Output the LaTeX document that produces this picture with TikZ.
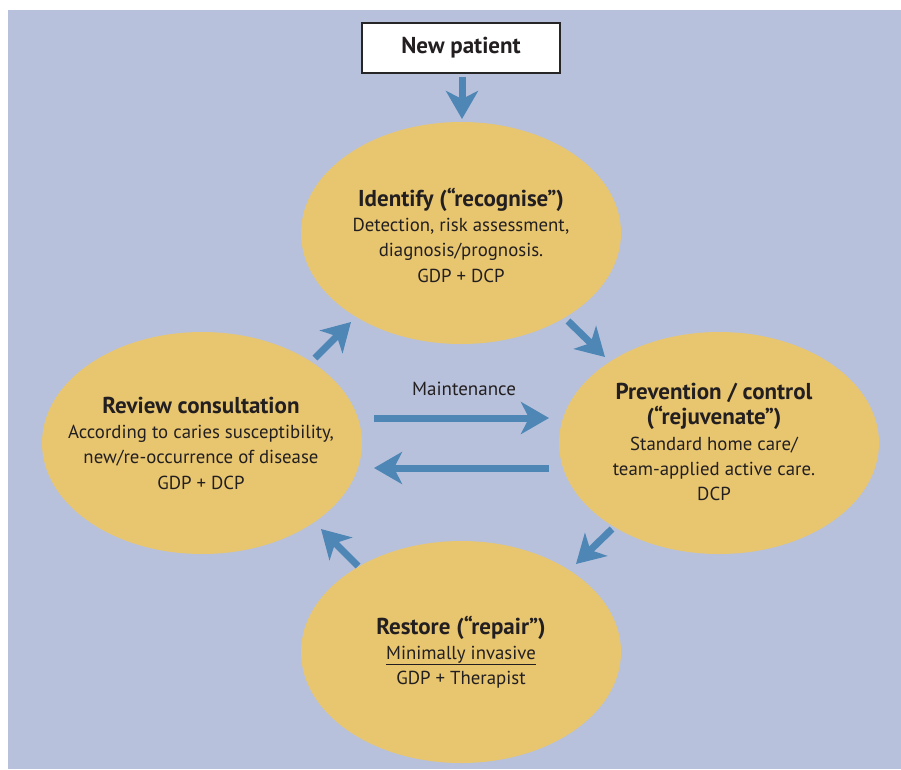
\documentclass[tikz,border=0pt]{standalone}
\usepackage{fontspec}
\setmainfont{PT Sans}
\usetikzlibrary{shapes.geometric,arrows.meta}
\definecolor{bgblue}{RGB}{184,193,219}
\definecolor{ellyellow}{RGB}{232,198,112}
\definecolor{arrblue}{RGB}{78,134,182}
\definecolor{txtdark}{RGB}{35,31,32}
\newcommand{\ttlfont}{\bfseries\fontsize{23}{26}\selectfont}
\begin{document}
\begin{tikzpicture}[x=1pt,y=-1pt,
  stage/.style={ellipse, fill=ellyellow, minimum width=320pt, minimum height=222pt,
    inner sep=0pt},
  stagetext/.style={inner sep=0pt, align=center, text=txtdark,
    font=\fontsize{18.8}{25.3}\selectfont},
  flow/.style={draw=arrblue, line width=7pt,
    -{Stealth[length=28pt,width=32pt,inset=8pt]}},
  lbl/.style={text=txtdark, font=\fontsize{19}{22}\selectfont, inner sep=0pt}
]
\useasboundingbox (0,0) rectangle (901,769);
\fill[bgblue] (8,10) rectangle (901,769);

\node[draw=black!85, line width=1.5pt, fill=white, minimum width=198pt, minimum height=50pt,
  inner sep=0pt, text=txtdark, font=\bfseries\fontsize{23}{26}\selectfont] (np) at (461,48) {New patient};

\node[stage] (identify) at (461,233) {};
\node[stage] (review) at (202,443) {};
\node[stage] (prevent) at (719,443) {};
\node[stage] (restore) at (461,652) {};

\node[stagetext] (identifyt) at (461,235)
  {{\ttlfont Identify (“recognise”)}\\
   Detection, risk assessment,\\ diagnosis/prognosis.\\ GDP + DCP};
\node[stagetext] (reviewt) at (201,443)
  {{\ttlfont Review consultation}\\
   According to caries susceptibility,\\ new/re-occurrence of disease\\ GDP + DCP};
\node[stagetext] (preventt) at (714,442)
  {{\ttlfont Prevention / control}\\
   {\ttlfont (“rejuvenate”)}\\
   Standard home care/\\ team-applied active care.\\ DCP};
\node[stagetext] (restoret) at (461,652)
  {{\ttlfont Restore (“repair”)}\\
   \underline{Minimally invasive}\\ GDP + Therapist};

\node[lbl] (maint) at (464,389) {Maintenance};

\coordinate (d1s) at (462,77);  \coordinate (d1e) at (462,119);
\coordinate (a1s) at (315,358); \coordinate (a1e) at (351,322);
\coordinate (a2s) at (568,321); \coordinate (a2e) at (605,357);
\coordinate (a3s) at (612,529); \coordinate (a3e) at (576,564);
\coordinate (a4s) at (358,566); \coordinate (a4e) at (321,529);
\coordinate (m1s) at (374,418); \coordinate (m1e) at (549,418);
\coordinate (m2s) at (549,468); \coordinate (m2e) at (374,468);

\draw[flow] (d1s) -- (d1e);
\draw[flow] (a1s) -- (a1e);
\draw[flow] (a2s) -- (a2e);
\draw[flow] (a3s) -- (a3e);
\draw[flow] (a4s) -- (a4e);
\draw[flow] (m1s) -- (m1e);
\draw[flow] (m2s) -- (m2e);
\end{tikzpicture}
\end{document}
